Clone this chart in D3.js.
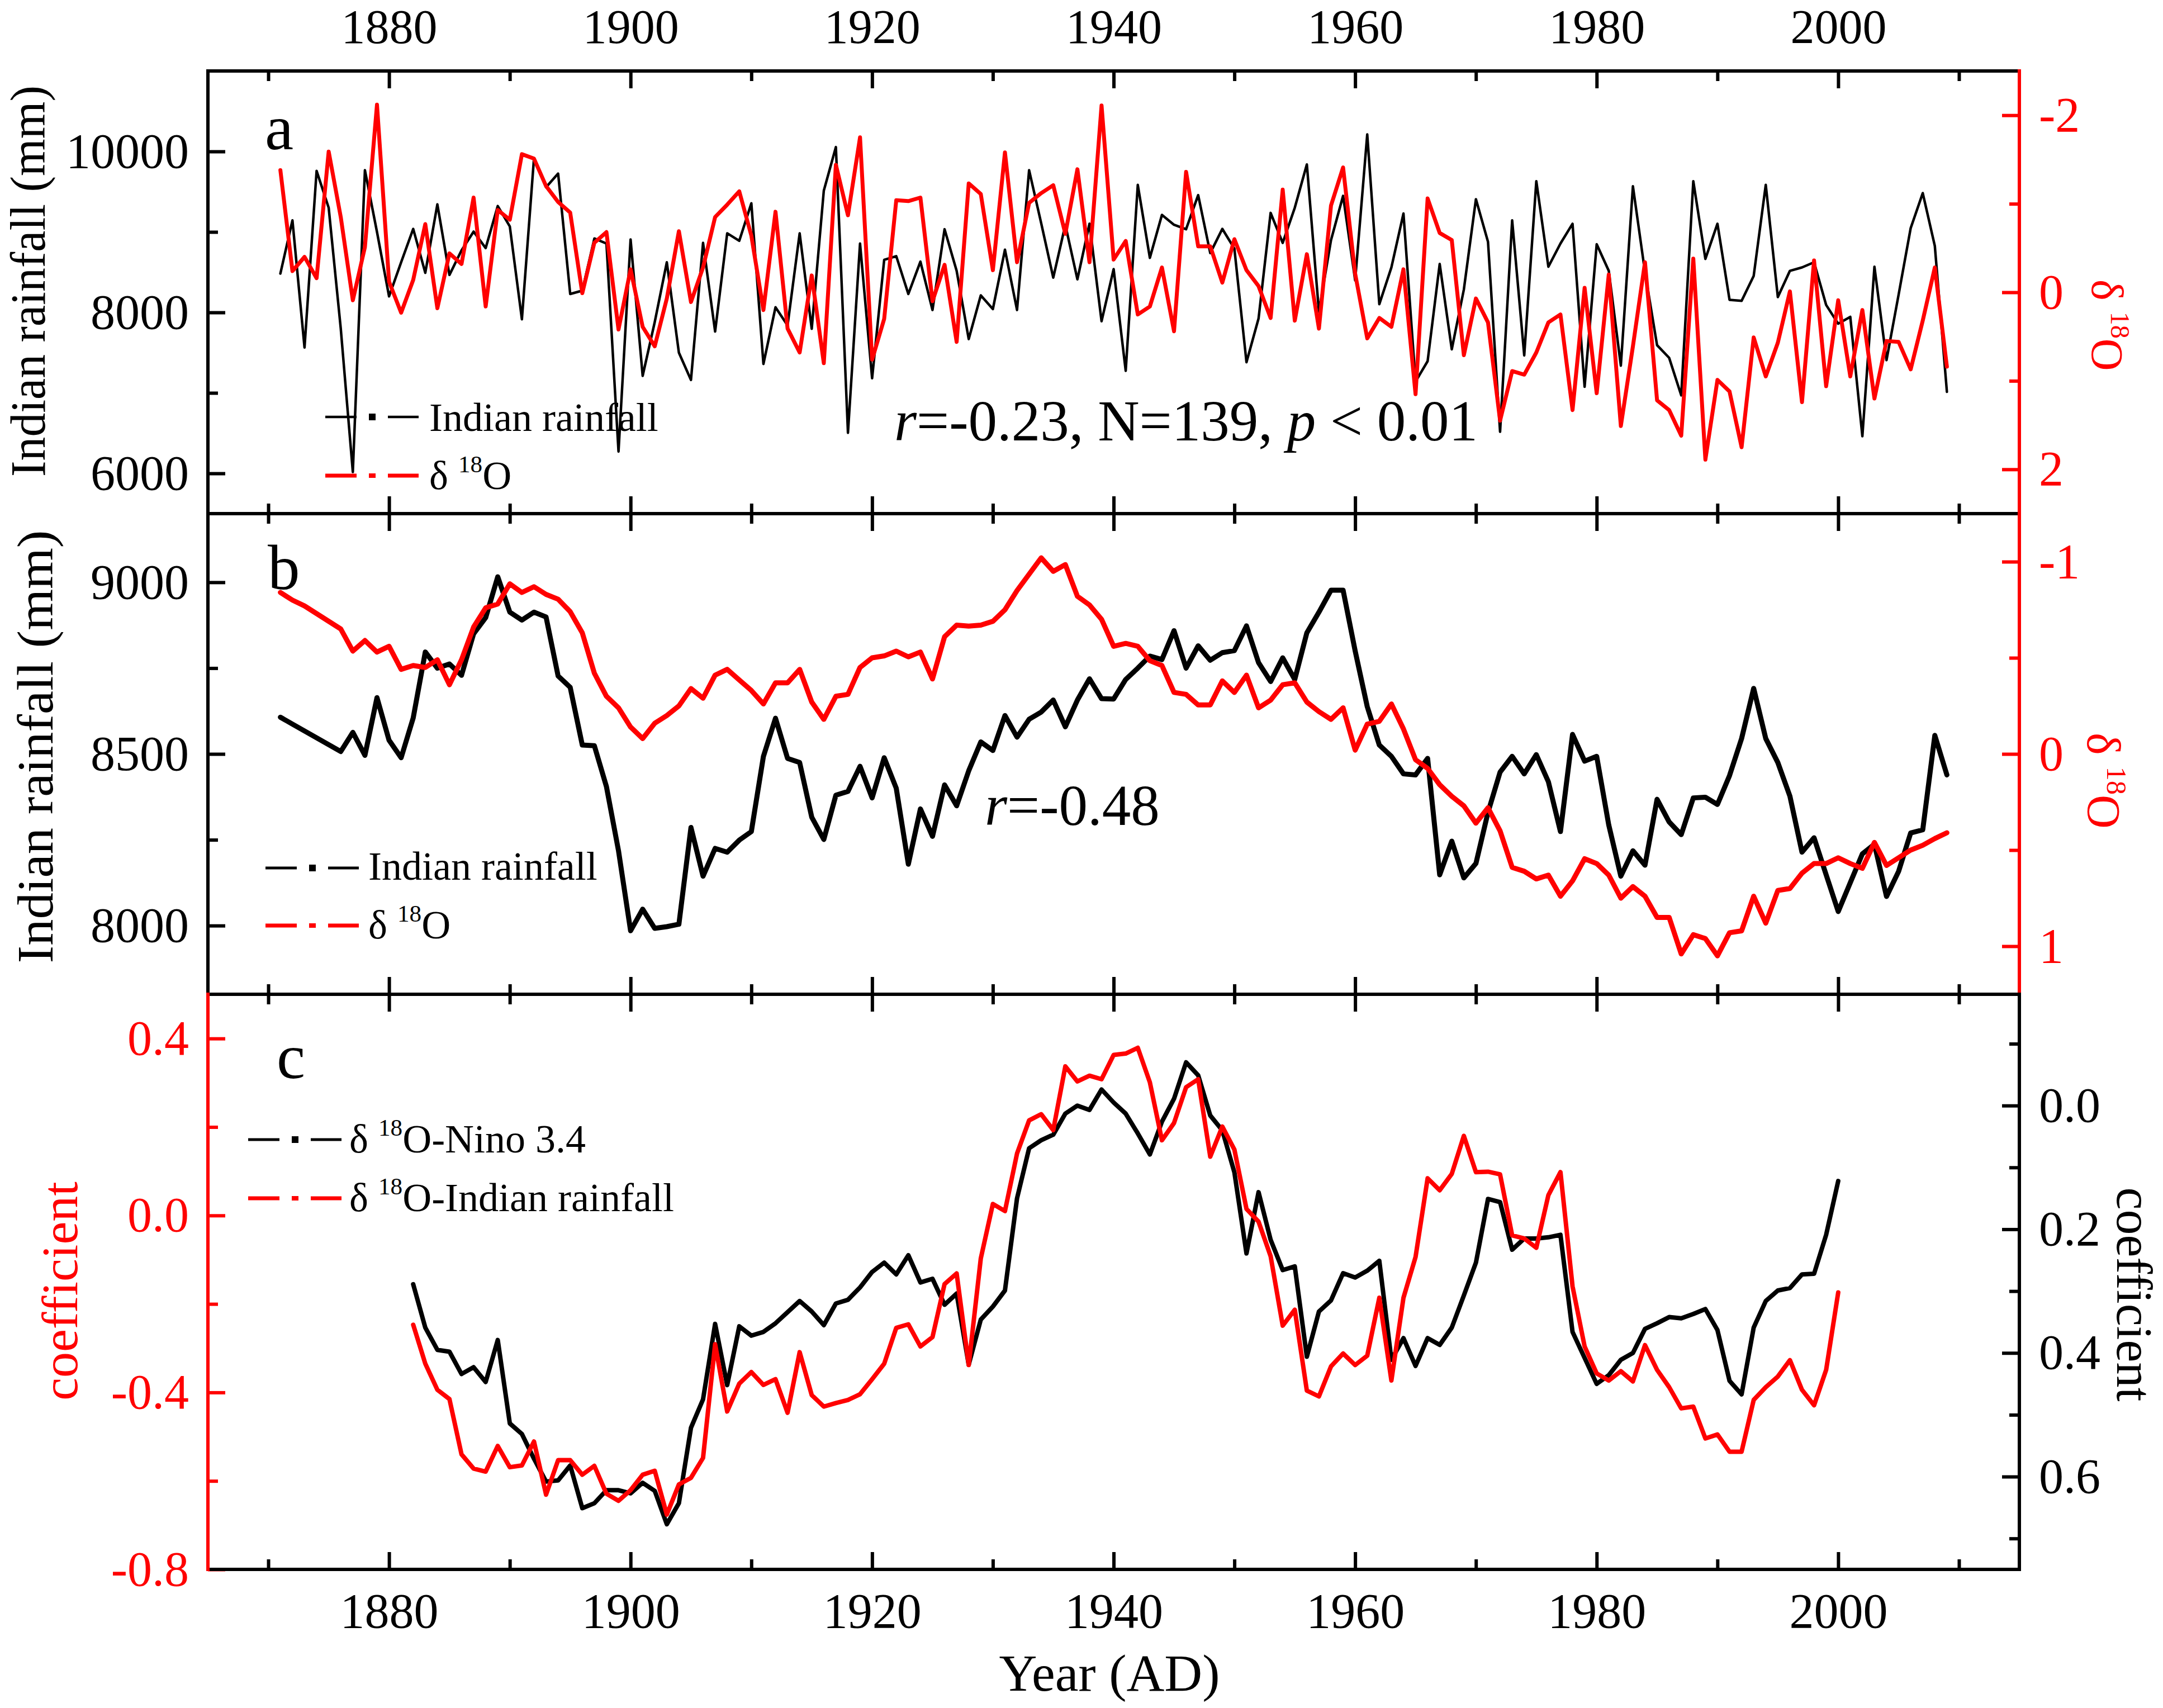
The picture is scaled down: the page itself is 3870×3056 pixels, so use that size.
<!DOCTYPE html>
<html>
<head>
<meta charset="utf-8">
<script src="https://cdn.jsdelivr.net/npm/d3@7/dist/d3.min.js"></script>
<style>
  body { margin: 0; background: #fff; }
  svg text { font-family: "Liberation Serif", "Times New Roman", serif; }
</style>
</head>
<body>
<svg id="chart" width="3870" height="3056"></svg>
<script>
// ---- data ----
const yearsAB = d3.range(1871, 2010);   // panels a and b
const yearsC = d3.range(1882, 2001);    // panel c (running correlations)

// panel a: annual Indian rainfall (mm) and tree-ring d18O
const rainA = [8483,9144,7564,9759,9301,7800,6017,9767,9000,8199,
  8623,9038,8492,9343,8466,8771,9004,8800,9322,9068,
  7915,9915,9555,9725,8229,8271,8919,8856,6271,8907,
  7212,7881,8623,7500,7161,8864,7763,8983,8890,9356,
  7360,8064,7839,8983,7797,9513,10055,6504,8856,7182,
  8653,8699,8229,8631,8030,9034,8517,7669,8212,8042,
  8780,8030,9767,9110,8432,9089,8411,9102,7890,8538,
  7275,9585,8678,9212,9089,9034,9458,8737,9038,8792,
  7381,7924,9237,8864,9301,9839,8008,8898,9449,8398,
  10212,8102,8559,9229,7140,7394,8602,7542,8284,9407,
  8877,6517,9144,7466,9631,8568,8856,9102,7076,8847,
  8517,7339,9568,8500,7593,7436,6970,9631,8665,9102,
  8157,8144,8453,9585,8191,8517,8559,8623,8093,7860,
  7945,6462,8568,7407,8220,9047,9483,8826,7013];
const d18oA = [-1.38,-0.24,-0.40,-0.16,-1.59,-0.85,0.09,-0.51,-2.12,-0.12,
  0.23,-0.14,-0.77,0.18,-0.44,-0.32,-1.07,0.16,-0.93,-0.82,
  -1.56,-1.51,-1.20,-1.02,-0.90,0.01,-0.56,-0.68,0.42,-0.26,
  0.39,0.61,0.07,-0.69,0.11,-0.28,-0.85,-0.99,-1.14,-0.64,
  0.20,-0.91,0.41,0.68,-0.19,0.80,-1.44,-0.87,-1.75,0.76,
  0.30,-1.04,-1.03,-1.07,0.10,-0.31,0.56,-1.23,-1.11,-0.25,
  -1.58,-0.34,-1.01,-1.12,-1.21,-0.66,-1.39,-0.34,-2.11,-0.37,
  -0.58,0.25,0.16,-0.28,0.44,-1.36,-0.52,-0.52,-0.11,-0.60,
  -0.25,-0.07,0.29,-1.16,0.32,-0.43,0.41,-0.98,-1.41,-0.21,
  0.52,0.29,0.39,-0.26,1.15,-1.06,-0.67,-0.59,0.71,0.07,
  0.34,1.45,0.89,0.93,0.68,0.34,0.25,1.33,-0.05,1.14,
  -0.20,1.51,0.61,-0.34,1.22,1.33,1.62,-0.38,1.89,0.99,
  1.12,1.75,0.51,0.95,0.57,-0.01,1.24,-0.36,1.06,0.09,
  0.95,0.20,1.20,0.55,0.56,0.87,0.32,-0.28,0.84];

// panel b: smoothed series
const rainB = [8607,8587,8567,8547,8527,8507,8563,8496,8664,8540,
  8489,8605,8797,8750,8762,8729,8850,8897,9016,8913,
  8890,8913,8899,8727,8694,8526,8524,8405,8218,7985,
  8048,7992,7997,8004,8286,8144,8225,8214,8249,8274,
  8493,8604,8487,8475,8316,8251,8380,8391,8464,8372,
  8489,8400,8179,8340,8260,8410,8349,8451,8535,8510,
  8612,8549,8601,8622,8657,8579,8657,8719,8661,8660,
  8717,8750,8785,8775,8859,8750,8815,8773,8795,8801,
  8873,8766,8711,8780,8717,8853,8913,8977,8977,8800,
  8638,8526,8493,8442,8439,8487,8148,8246,8139,8181,
  8330,8447,8493,8442,8498,8419,8274,8557,8479,8493,
  8293,8144,8218,8176,8368,8302,8265,8372,8374,8353,
  8437,8545,8691,8545,8475,8377,8214,8256,8148,8041,
  8125,8209,8237,8085,8158,8270,8279,8554,8439];
const d18oB = [-0.84,-0.80,-0.77,-0.73,-0.69,-0.65,-0.535,-0.59,-0.53,-0.56,
  -0.44,-0.46,-0.45,-0.49,-0.36,-0.49,-0.66,-0.76,-0.78,-0.885,
  -0.84,-0.87,-0.83,-0.805,-0.74,-0.63,-0.42,-0.30,-0.24,-0.14,
  -0.08,-0.16,-0.20,-0.25,-0.34,-0.29,-0.41,-0.44,-0.385,-0.33,
  -0.26,-0.37,-0.37,-0.44,-0.27,-0.18,-0.30,-0.31,-0.45,-0.50,
  -0.51,-0.535,-0.505,-0.53,-0.39,-0.61,-0.67,-0.665,-0.67,-0.69,
  -0.75,-0.85,-0.935,-1.02,-0.95,-0.985,-0.82,-0.775,-0.70,-0.56,
  -0.575,-0.56,-0.485,-0.46,-0.32,-0.31,-0.255,-0.255,-0.38,-0.32,
  -0.41,-0.24,-0.28,-0.36,-0.37,-0.27,-0.22,-0.18,-0.24,-0.02,
  -0.155,-0.17,-0.26,-0.13,0.03,0.075,0.16,0.22,0.27,0.36,
  0.28,0.40,0.59,0.61,0.65,0.63,0.74,0.66,0.545,0.57,
  0.63,0.75,0.69,0.74,0.85,0.85,1.04,0.94,0.96,1.05,
  0.93,0.92,0.74,0.88,0.71,0.70,0.62,0.57,0.57,0.54,
  0.57,0.595,0.46,0.58,0.54,0.50,0.475,0.44,0.41];

// panel c: running correlation coefficients
const corrNino = [0.289,0.359,0.395,0.398,0.434,0.423,0.447,0.379,0.514,
  0.531,0.571,0.608,0.606,0.582,0.651,0.643,0.622,0.622,0.627,
  0.610,0.623,0.677,0.643,0.521,0.475,0.353,0.452,0.357,0.372,
  0.366,0.352,0.334,0.316,0.333,0.355,0.320,0.314,0.294,0.269,
  0.254,0.273,0.242,0.286,0.280,0.322,0.304,0.419,0.346,0.325,
  0.299,0.150,0.069,0.056,0.047,0.013,0.000,0.007,-0.026,-0.005,
  0.013,0.045,0.079,0.026,-0.011,-0.070,-0.049,0.016,0.040,0.108,
  0.239,0.140,0.217,0.266,0.260,0.406,0.333,0.315,0.271,0.278,
  0.267,0.251,0.411,0.376,0.421,0.376,0.387,0.359,0.307,0.254,
  0.151,0.156,0.233,0.215,0.215,0.213,0.209,0.366,0.408,0.450,
  0.436,0.411,0.400,0.361,0.352,0.342,0.344,0.337,0.329,0.363,
  0.445,0.467,0.359,0.316,0.299,0.295,0.273,0.272,0.209,0.122];
const corrRain = [-0.247,-0.335,-0.394,-0.415,-0.540,-0.572,-0.579,-0.521,-0.569,
  -0.565,-0.511,-0.631,-0.553,-0.553,-0.586,-0.566,-0.629,-0.645,-0.621,
  -0.586,-0.577,-0.676,-0.608,-0.593,-0.548,-0.291,-0.443,-0.380,-0.354,
  -0.383,-0.370,-0.446,-0.309,-0.406,-0.432,-0.424,-0.417,-0.404,-0.370,
  -0.335,-0.254,-0.246,-0.296,-0.275,-0.155,-0.131,-0.338,-0.097,0.026,
  0.010,0.140,0.215,0.229,0.193,0.337,0.303,0.316,0.308,0.363,
  0.366,0.379,0.301,0.170,0.209,0.290,0.308,0.133,0.201,0.149,
  0.015,-0.014,-0.092,-0.249,-0.213,-0.396,-0.409,-0.341,-0.312,-0.338,
  -0.317,-0.186,-0.373,-0.186,-0.094,0.084,0.057,0.094,0.180,0.098,
  0.099,0.093,-0.045,-0.052,-0.073,0.046,0.098,-0.160,-0.296,-0.357,
  -0.373,-0.352,-0.375,-0.293,-0.349,-0.388,-0.436,-0.432,-0.504,-0.495,
  -0.534,-0.534,-0.417,-0.388,-0.364,-0.327,-0.394,-0.429,-0.349,-0.174];

// tick values
const xMajor = [1880, 1900, 1920, 1940, 1960, 1980, 2000];
const xMinor = [1870, 1890, 1910, 1930, 1950, 1970, 1990, 2010];
const aLeftMajor = [6000, 8000, 10000], aLeftMinor = [7000, 9000];
const aRightMajor = [-2, 0, 2], aRightMinor = [-1, 1];
const bLeftMajor = [8000, 8500, 9000], bLeftMinor = [8250, 8750];
const bRightMajor = [-1, 0, 1], bRightMinor = [-0.5, 0.5];
const cLeftMajor = [-0.8, -0.4, 0.0, 0.4], cLeftMinor = [-0.6, -0.2, 0.2];
const cRightMajor = [0.0, 0.2, 0.4, 0.6], cRightMinor = [-0.1, 0.1, 0.3, 0.5, 0.7];

const RED = "#ff0000", BLACK = "#000000";

// ---- layout ----
const svg = d3.select("#chart");
const L = 372, R = 3613;
const panels = {
  a: { top: 127, bottom: 919 },
  b: { top: 919, bottom: 1779 },
  c: { top: 1779, bottom: 2808 }
};
const MAJ = 31, MIN = 18, TICKW = 6, FS_TICK = 88;

const x = d3.scaleLinear().domain([1865, 2015]).range([L, R]);

const yA = d3.scaleLinear().domain([5500, 11000]).range([panels.a.bottom, panels.a.top]);
const yA2 = d3.scaleLinear().domain([-2.5, 2.5]).range([panels.a.top, panels.a.bottom]);
const yB = d3.scaleLinear().domain([7800, 9200]).range([panels.b.bottom, panels.b.top]);
const yB2 = d3.scaleLinear().domain([-1.25, 1.25]).range([panels.b.top, panels.b.bottom]);
const yC = d3.scaleLinear().domain([-0.8, 0.5]).range([panels.c.bottom, panels.c.top]);
const yC2 = d3.scaleLinear().domain([-0.18, 0.75]).range([panels.c.top, panels.c.bottom]);

function styleAxis(g, color, fs) {
  g.select(".domain").remove();
  g.attr("font-family", "Liberation Serif").attr("font-size", fs);
  g.selectAll(".tick line").attr("stroke", color).attr("stroke-width", TICKW);
  g.selectAll(".tick text").attr("fill", color).attr("font-size", fs);
}

// major ticks with labels plus unlabelled minor ticks, all pointing inward
function addAxis(gen, transform, color, major, minor, fmt, pad, fs) {
  const gMaj = svg.append("g").attr("transform", transform);
  gMaj.call(gen.tickValues(major).tickSize(-MAJ).tickPadding(pad).tickFormat(fmt));
  styleAxis(gMaj, color, fs || FS_TICK);
  const gMin = svg.append("g").attr("transform", transform);
  gMin.call(gen.tickValues(minor).tickSize(-MIN).tickFormat(""));
  styleAxis(gMin, color, fs || FS_TICK);
}

const yearFmt = d => String(d);
const noFmt = () => "";
const intFmt = d => String(d);
const oneDec = d => d.toFixed(1);

// x axes on every panel
Object.entries(panels).forEach(([key, p]) => {
  addAxis(d3.axisTop(x), `translate(0,${p.top})`, BLACK, xMajor, xMinor,
    key === "a" ? yearFmt : noFmt, 50, 86);
  addAxis(d3.axisBottom(x), `translate(0,${p.bottom})`, BLACK, xMajor, xMinor,
    key === "c" ? yearFmt : noFmt, 42);
});

// y axes
addAxis(d3.axisLeft(yA), `translate(${L},0)`, BLACK, aLeftMajor, aLeftMinor, intFmt, 34);
addAxis(d3.axisRight(yA2), `translate(${R},0)`, RED, aRightMajor, aRightMinor, intFmt, 35);
addAxis(d3.axisLeft(yB), `translate(${L},0)`, BLACK, bLeftMajor, bLeftMinor, intFmt, 34);
addAxis(d3.axisRight(yB2), `translate(${R},0)`, RED, bRightMajor, bRightMinor, intFmt, 35);
addAxis(d3.axisLeft(yC), `translate(${L},0)`, RED, cLeftMajor, cLeftMinor, oneDec, 34);
addAxis(d3.axisRight(yC2), `translate(${R},0)`, BLACK, cRightMajor, cRightMinor, oneDec, 35);

// frames
const frame = svg.append("g").attr("stroke-width", 6).attr("stroke-linecap", "square");
function seg(x1, y1, x2, y2, c) {
  frame.append("line").attr("x1", x1).attr("y1", y1).attr("x2", x2).attr("y2", y2).attr("stroke", c);
}
[["a", BLACK, RED], ["b", BLACK, RED], ["c", RED, BLACK]].forEach(([k, lc, rc]) => {
  const p = panels[k];
  seg(L, p.top, R, p.top, BLACK);
  seg(L, p.bottom, R, p.bottom, BLACK);
  seg(L, p.top, L, p.bottom, lc);
  seg(R, p.top, R, p.bottom, rc);
});

// ---- series ----
function series(years, vals, yScale, color, width) {
  const line = d3.line().x((d, i) => x(years[i])).y(d => yScale(d));
  svg.append("path").datum(vals)
    .attr("fill", "none").attr("stroke", color).attr("stroke-width", width)
    .attr("stroke-linejoin", "round").attr("stroke-linecap", "round")
    .attr("d", line);
}
series(yearsAB, rainA, yA, BLACK, 4.5);
series(yearsAB, d18oA, yA2, RED, 7);
series(yearsAB, rainB, yB, BLACK, 9);
series(yearsAB, d18oB, yB2, RED, 9);
series(yearsC, corrNino, yC2, BLACK, 8);
series(yearsC, corrRain, yC, RED, 8);

// ---- text ----
function d18oText(sel) {
  sel.append("tspan").text("\u03B4 ");
  sel.append("tspan").attr("font-size", "0.6em").attr("dy", "-0.7em").text("18");
  sel.append("tspan").attr("dy", "0.42em").text("O");
}

// left titles
function leftTitle(xPos, yPos, color, txt, fs, len) {
  const t = svg.append("text")
    .attr("transform", `translate(${xPos},${yPos}) rotate(-90)`)
    .attr("text-anchor", "middle").attr("font-size", fs).attr("fill", color).text(txt);
  if (len) t.attr("textLength", len).attr("lengthAdjust", "spacingAndGlyphs");
}
leftTitle(80, 503, BLACK, "Indian rainfall (mm)", 88, 700);
leftTitle(94, 1336, BLACK, "Indian rainfall (mm)", 92, 775);
leftTitle(138, 2310, RED, "coefficient", 92);

// right titles
svg.append("text").attr("transform", "translate(3743,500) rotate(90)")
  .attr("font-size", 80).attr("fill", RED).call(d18oText);
svg.append("text").attr("transform", "translate(3735,1311) rotate(90)")
  .attr("font-size", 84).attr("fill", RED).call(d18oText);
svg.append("text").attr("transform", "translate(3788,2316) rotate(90)")
  .attr("text-anchor", "middle").attr("font-size", 90).attr("fill", BLACK).text("coefficient");

// panel letters
[["a", 474, 267], ["b", 479, 1054], ["c", 495, 1929]].forEach(([t, px, py]) => {
  svg.append("text").attr("x", px).attr("y", py).attr("font-size", 115).text(t);
});

// annotations
const ann1 = svg.append("text").attr("x", 1600).attr("y", 788).attr("font-size", 103);
ann1.append("tspan").attr("font-style", "italic").text("r");
ann1.append("tspan").text("=-0.23, N=139, ");
ann1.append("tspan").attr("font-style", "italic").text("p");
ann1.append("tspan").text(" < 0.01");

const ann2 = svg.append("text").attr("x", 1762).attr("y", 1476).attr("font-size", 103);
ann2.append("tspan").attr("font-style", "italic").text("r");
ann2.append("tspan").text("=-0.48");

// x title
svg.append("text").attr("x", 1985).attr("y", 3025).attr("text-anchor", "middle")
  .attr("font-size", 94).text("Year (AD)");

// ---- legends ----
function legendItem(x0, yLine, color, lw, dot, textX, baseline, build) {
  const g = svg.append("g");
  g.append("line").attr("x1", x0).attr("x2", x0 + 56).attr("y1", yLine).attr("y2", yLine)
    .attr("stroke", color).attr("stroke-width", lw);
  g.append("rect").attr("x", x0 + 78).attr("y", yLine - dot / 2).attr("width", 12).attr("height", dot)
    .attr("fill", color);
  g.append("line").attr("x1", x0 + 112).attr("x2", x0 + 167).attr("y1", yLine).attr("y2", yLine)
    .attr("stroke", color).attr("stroke-width", lw);
  const t = g.append("text").attr("x", textX).attr("y", baseline).attr("font-size", 72);
  build(t);
}
const plain = s => t => t.text(s);
const d18oWith = suffix => t => { d18oText(t); t.append("tspan").text(suffix); };

legendItem(582, 746, BLACK, 4.5, 12, 768, 771, plain("Indian rainfall"));
legendItem(582, 851, RED, 7, 8, 768, 875, d18oWith(""));
legendItem(475, 1553, BLACK, 5, 12, 659, 1574, plain("Indian rainfall"));
legendItem(475, 1656, RED, 7, 8, 659, 1679, d18oWith(""));
legendItem(444, 2039, BLACK, 5, 12, 625, 2062, d18oWith("-Nino 3.4"));
legendItem(444, 2144, RED, 7, 8, 625, 2167, d18oWith("-Indian rainfall"));
</script>
</body>
</html>
